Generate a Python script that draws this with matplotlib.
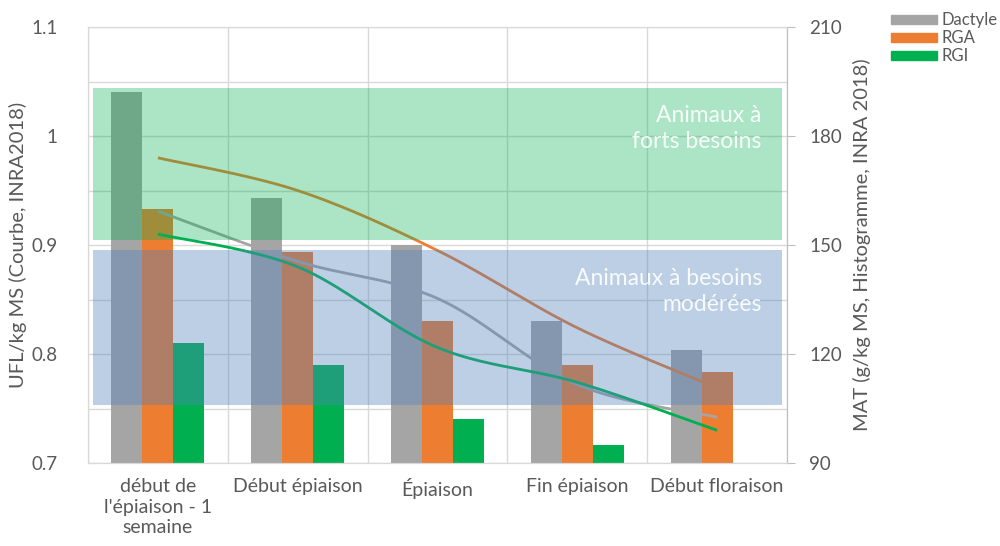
import numpy as np
import matplotlib
matplotlib.use("Agg")
import matplotlib.pyplot as plt
from matplotlib.patches import Patch
from matplotlib.ticker import FuncFormatter, MultipleLocator

# ---------------- data ----------------
categories = ["début de\nl'épiaison - 1\nsemaine", "Début épiaison", "Épiaison",
              "Fin épiaison", "Début floraison"]
series = ["Dactyle", "RGA", "RGI"]
# MAT (g/kg MS) - bars, right axis
mat_dactyle = [192, 163, 150, 129, 121]
mat_rga = [160, 148, 129, 117, 115]
mat_rgi = [123, 117, 102, 95, np.nan]
# UFL/kg MS - smooth lines, left axis
ufl_dactyle = [0.931, 0.885, 0.851, 0.772, 0.742]
ufl_rga = [0.980, 0.950, 0.895, 0.824, 0.769]
ufl_rgi = [0.910, 0.880, 0.806, 0.774, 0.730]
# need zones (UFL)
band_labels = ["Animaux à\nforts besoins", "Animaux à besoins\nmodérées"]
band_low = [0.9046, 0.7532]
band_high = [1.044, 0.8954]
band_text_y = [1.007, 0.857]
ufl_ticks = [0.7, 0.8, 0.9, 1.0, 1.1]
mat_ticks = [90, 120, 150, 180, 210]

# ---------------- style ----------------
FONT = ["Lato", "DejaVu Sans"]
plt.rcParams["font.family"] = FONT
TXT = "#595959"
GRID = "#d9d9d9"
colors = ["#A5A5A5", "#ED7D31", "#00B050"]
band_colors = ["#00B050", "#4F81BD"]
band_alphas = [0.33, 0.38]


def catmull_rom(xs, ys, n=40):
    pts = np.column_stack([xs, ys]).astype(float)
    P = np.vstack([pts[0], pts, pts[-1]])
    out = []
    t = np.linspace(0, 1, n)[:, None]
    for i in range(1, len(P) - 2):
        p0, p1, p2, p3 = P[i - 1], P[i], P[i + 1], P[i + 2]
        seg = 0.5 * ((2 * p1) + (-p0 + p2) * t + (2 * p0 - 5 * p1 + 4 * p2 - p3) * t ** 2
                     + (-p0 + 3 * p1 - 3 * p2 + p3) * t ** 3)
        out.append(seg if i == 1 else seg[1:])
    out = np.vstack(out)
    return out[:, 0], out[:, 1]


fig = plt.figure(figsize=(10, 5.46), dpi=100)
ax = fig.add_axes([0.088, 0.152, 0.699, 0.7985])   # MAT bars (right axis)
ax2 = ax.twinx()                                     # UFL lines (left axis)

x = np.arange(len(categories))
w = 0.222
mats = [mat_dactyle, mat_rga, mat_rgi]
for i, (vals, c) in enumerate(zip(mats, colors)):
    ax.bar(x + (i - 1) * w, vals, width=w, color=c, zorder=2)

ax.set_xlim(-0.5, len(categories) - 0.5)
ax.set_ylim(mat_ticks[0], mat_ticks[-1])
ax.set_yticks(mat_ticks)
ax.yaxis.set_minor_locator(MultipleLocator(15))
ax.grid(axis="y", which="both", color=GRID, lw=1, zorder=0)
for b in np.arange(-0.5, len(categories), 1.0):
    ax.axvline(b, color=GRID, lw=1, zorder=0)
ax.set_axisbelow(True)

# MAT axis on the right, UFL on the left
ax.yaxis.tick_right()
ax.yaxis.set_label_position("right")
ax2.yaxis.tick_left()
ax2.yaxis.set_label_position("left")

ufls = [ufl_dactyle, ufl_rga, ufl_rgi]
for vals, c in zip(ufls, colors):
    sx, sy = catmull_rom(x, vals)
    ax2.plot(sx, sy, color=c, lw=2.0, zorder=2, solid_capstyle="butt")

ax2.set_ylim(ufl_ticks[0], ufl_ticks[-1])
ax2.set_yticks(ufl_ticks)
ax2.yaxis.set_major_formatter(FuncFormatter(lambda v, p: f"{v:g}"))

for lo, hi, bc, ba in zip(band_low, band_high, band_colors, band_alphas):
    ax2.axhspan(lo, hi, xmin=0.007, xmax=0.993, color=bc, alpha=ba, lw=0, zorder=3)

for lbl, ty in zip(band_labels, band_text_y):
    ax2.text(4.32, ty, lbl, ha="right", va="center", color="white",
             fontsize=16.5, linespacing=1.3, alpha=0.9, zorder=5)

# spines / ticks
for a in (ax, ax2):
    for s in a.spines.values():
        s.set_color(GRID)
ax2.spines["right"].set_color("#bfbfbf")
ax.tick_params(axis="y", which="major", right=True, length=6, color="#bfbfbf",
               labelcolor=TXT, labelsize=13.5, pad=10)
ax.tick_params(axis="y", which="minor", right=False, length=0)
ax2.tick_params(axis="y", left=False, length=0, labelcolor=TXT, labelsize=13.5, pad=22)
ax.tick_params(axis="x", length=0, labelcolor=TXT, labelsize=14, pad=11)
ax.set_xticks(x)
ax.set_xticklabels(categories, linespacing=1.25)

ax2.set_ylabel("UFL/kg MS (Courbe, INRA2018)", color=TXT, fontsize=14.5, labelpad=3)
ax.set_ylabel("MAT (g/kg MS, Histogramme, INRA 2018)", color=TXT, fontsize=14.5,
              labelpad=8, rotation=90)

handles = [Patch(color=c) for c in colors]
fig.legend(handles, series, loc="upper left", bbox_to_anchor=(0.884, 0.99),
           frameon=False, fontsize=12, handlelength=2.8, handleheight=0.45,
           handletextpad=0.25, labelspacing=0.12, labelcolor=TXT, borderaxespad=0)

fig.savefig("out.png", dpi=100)
